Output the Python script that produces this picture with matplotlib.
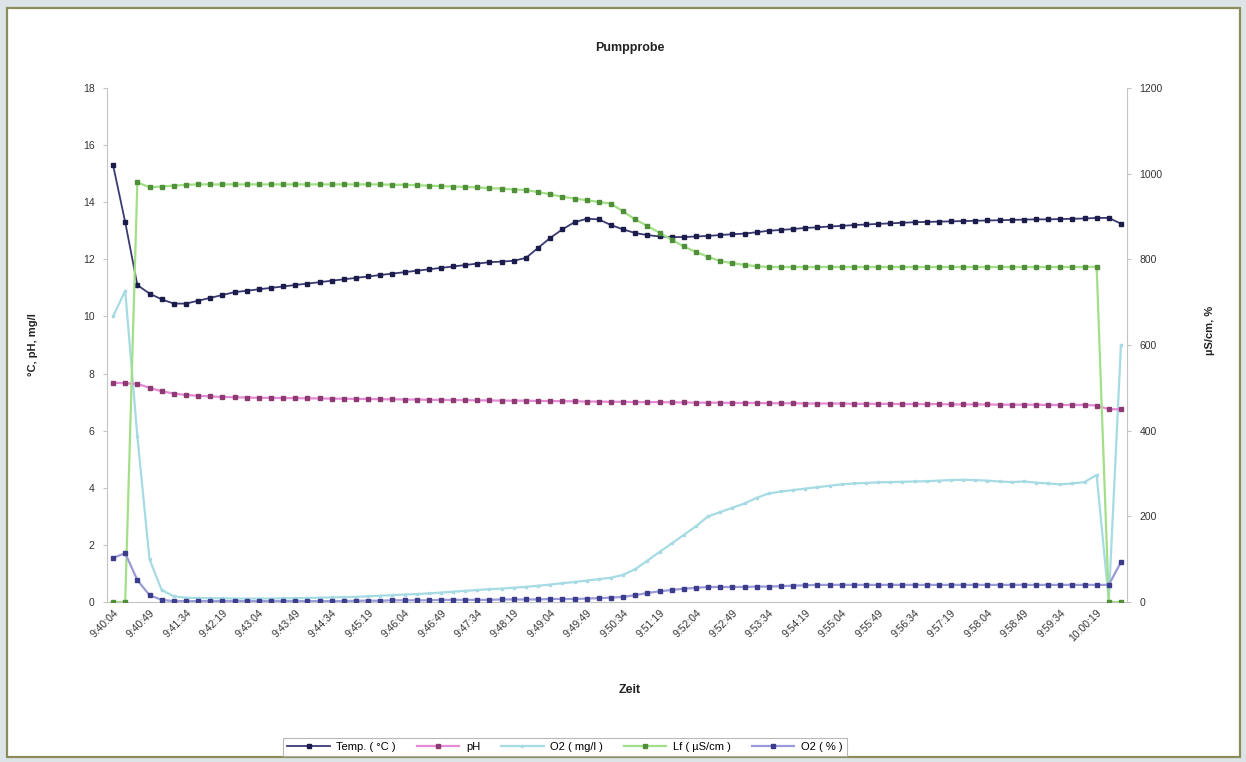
import matplotlib
matplotlib.use("Agg")
import matplotlib.pyplot as plt
from matplotlib.patches import Rectangle

plt.rcParams['font.family'] = ['Liberation Sans', 'DejaVu Sans']

# Category labels shown on the time axis (every third sample, 15 s sampling)
tick_labels = ["9:40:04", "9:40:49", "9:41:34", "9:42:19", "9:43:04", "9:43:49",
               "9:44:34", "9:45:19", "9:46:04", "9:46:49", "9:47:34", "9:48:19",
               "9:49:04", "9:49:49", "9:50:34", "9:51:19", "9:52:04", "9:52:49",
               "9:53:34", "9:54:19", "9:55:04", "9:55:49", "9:56:34", "9:57:19",
               "9:58:04", "9:58:49", "9:59:34", "10:00:19"]
label_step = 3

temp = [15.3, 13.3, 11.1, 10.8, 10.6, 10.45, 10.45, 10.55, 10.65, 10.75,
        10.85, 10.9, 10.95, 11.0, 11.05, 11.1, 11.15, 11.2, 11.25, 11.3,
        11.35, 11.4, 11.45, 11.5, 11.55, 11.6, 11.65, 11.7, 11.75, 11.8,
        11.85, 11.9, 11.92, 11.95, 12.05, 12.4, 12.75, 13.05, 13.3, 13.42,
        13.4, 13.2, 13.05, 12.92, 12.85, 12.8, 12.78, 12.78, 12.8, 12.82,
        12.85, 12.88, 12.9, 12.95, 13.0, 13.03, 13.06, 13.1, 13.12, 13.15,
        13.17, 13.2, 13.22, 13.24, 13.26, 13.28, 13.3, 13.31, 13.32, 13.33,
        13.34, 13.35, 13.36, 13.37, 13.38, 13.39, 13.4, 13.4, 13.41, 13.42,
        13.43, 13.45, 13.45, 13.25]

ph = [7.68, 7.66, 7.64, 7.5, 7.38, 7.3, 7.25, 7.22, 7.2, 7.18,
      7.17, 7.16, 7.15, 7.15, 7.14, 7.14, 7.13, 7.13, 7.12, 7.12,
      7.11, 7.11, 7.1, 7.1, 7.09, 7.09, 7.08, 7.08, 7.07, 7.07,
      7.06, 7.06, 7.05, 7.05, 7.05, 7.04, 7.04, 7.03, 7.03, 7.02,
      7.02, 7.01, 7.01, 7.0, 7.0, 7.0, 6.99, 6.99, 6.98, 6.98,
      6.98, 6.97, 6.97, 6.97, 6.96, 6.96, 6.96, 6.95, 6.95, 6.95,
      6.95, 6.94, 6.94, 6.94, 6.94, 6.93, 6.93, 6.93, 6.93, 6.92,
      6.92, 6.92, 6.92, 6.91, 6.91, 6.91, 6.91, 6.9, 6.9, 6.9,
      6.9, 6.88, 6.75, 6.75]

o2_mgl = [10.0, 10.9, 5.8, 1.5, 0.42, 0.2, 0.15, 0.14, 0.13, 0.13,
          0.12, 0.12, 0.12, 0.12, 0.13, 0.13, 0.14, 0.15, 0.16, 0.17,
          0.18, 0.2, 0.22, 0.24, 0.26, 0.28, 0.3, 0.33, 0.36, 0.39,
          0.42, 0.45, 0.47, 0.5, 0.53, 0.57, 0.61, 0.66, 0.7, 0.75,
          0.8, 0.85, 0.95, 1.15, 1.45, 1.75, 2.05, 2.35, 2.65, 3.0,
          3.15, 3.3, 3.45, 3.65, 3.8, 3.87, 3.92, 3.97, 4.02, 4.07,
          4.12, 4.15, 4.17, 4.19, 4.2, 4.21, 4.22, 4.23, 4.25, 4.27,
          4.28, 4.27, 4.25, 4.22, 4.2, 4.22, 4.18, 4.15, 4.12, 4.15,
          4.2, 4.45, 0.05, 9.0]

lf = [0, 0, 980, 968, 970, 972, 974, 975, 975, 975,
      975, 975, 975, 975, 975, 975, 975, 975, 975, 975,
      975, 975, 975, 974, 974, 973, 972, 971, 970, 969,
      968, 966, 965, 963, 962, 957, 952, 946, 942, 938,
      934, 930, 912, 893, 878, 862, 846, 830, 817, 806,
      796, 791, 787, 784, 782, 782, 782, 782, 782, 782,
      782, 782, 782, 782, 782, 782, 782, 782, 782, 782,
      782, 782, 782, 782, 782, 782, 782, 782, 782, 782,
      782, 783, 0, 0]

o2_pct = [103, 114, 51, 16, 5, 2, 2, 2, 2, 2,
          2, 2, 2, 2, 2, 2, 2, 2, 2, 2,
          3, 3, 3, 4, 4, 4, 4, 5, 5, 5,
          5, 5, 6, 6, 6, 6, 7, 7, 7, 8,
          9, 10, 12, 16, 21, 25, 28, 31, 33, 35,
          35, 35, 35, 36, 36, 37, 38, 39, 40, 40,
          40, 40, 40, 40, 40, 40, 40, 40, 40, 40,
          40, 40, 40, 40, 40, 40, 40, 40, 40, 40,
          40, 40, 40, 93]

x = list(range(len(temp)))

W, H = 1246, 762
fig = plt.figure(figsize=(W / 100, H / 100), dpi=100, facecolor='#dde4e7')
fig.patches.append(Rectangle((7 / W, 5 / H), (1240 - 7) / W, (757 - 8) / H,
                             transform=fig.transFigure, facecolor='white',
                             edgecolor='#8c8c5a', linewidth=1.6, zorder=-5))

ax = fig.add_axes([107 / W, 1 - 602 / H, 1020 / W, 514 / H])
ax.set_facecolor('none')
ax2 = ax.twinx()
ax2.set_position(ax.get_position())

ms = 3.4
h_temp, = ax.plot(x, temp, color='#3a3a72', lw=1.3, marker='s', ms=ms,
                  mfc='#1c1c4c', mec='#1c1c4c', label='Temp. ( °C )', zorder=5)
h_ph, = ax.plot(x, ph, color='#e48ad6', lw=1.6, marker='s', ms=ms,
                mfc='#8e3a72', mec='#8e3a72', label='pH', zorder=4)
h_o2m, = ax.plot(x, o2_mgl, color='#a6dbe4', lw=1.6, marker='s', ms=2.0,
                 mfc='#a6dbe4', mec='#a6dbe4', label='O2 ( mg/l )', zorder=3)
h_lf, = ax2.plot(x, lf, color='#a3df86', lw=1.6, marker='s', ms=ms,
                 mfc='#4f8f3a', mec='#4f8f3a', label='Lf ( µS/cm )', zorder=4)
h_o2p, = ax2.plot(x, o2_pct, color='#9a9ad8', lw=1.6, marker='s', ms=ms,
                  mfc='#3c3c8c', mec='#3c3c8c', label='O2 ( % )', zorder=5)

ax.set_xlim(-0.5, len(temp) - 0.5)
ax.set_ylim(0, 18)
ax.set_yticks(range(0, 19, 2))
ax2.set_ylim(0, 1200)
ax2.set_yticks(range(0, 1201, 200))

ax.set_xticks(x[::label_step])
ax.set_xticklabels(tick_labels, rotation=45, ha='right', va='top',
                   rotation_mode='anchor')

axis_col = '#c4c4c4'
for a in (ax, ax2):
    for s in a.spines.values():
        s.set_visible(False)
ax.spines['left'].set_visible(True)
ax.spines['left'].set_color(axis_col)
ax.spines['bottom'].set_visible(True)
ax.spines['bottom'].set_color(axis_col)
ax2.spines['right'].set_visible(True)
ax2.spines['right'].set_color(axis_col)

ax.tick_params(axis='y', direction='out', length=3, color=axis_col,
               labelsize=7.5, labelcolor='#333333', pad=6)
ax2.tick_params(axis='y', direction='out', length=3, color=axis_col,
                labelsize=7.5, labelcolor='#333333', pad=6)
ax.tick_params(axis='x', direction='out', length=0, labelsize=7.5,
               labelcolor='#333333', pad=4)

fig.text(0.5055, 1 - 48 / H, 'Pumpprobe', ha='center', va='center',
         fontsize=9, fontweight='bold', color='#222222')
fig.text(0.5055, 1 - 690 / H, 'Zeit', ha='center', va='center',
         fontsize=9, fontweight='bold', color='#222222')
fig.text(33 / W, 1 - 345 / H, '°C, pH, mg/l', ha='center', va='center',
         rotation=90, fontsize=8, fontweight='bold', color='#222222')
fig.text(1210 / W, 1 - 330 / H, 'µS/cm, %', ha='center', va='center',
         rotation=90, fontsize=8, fontweight='bold', color='#222222')

leg = fig.legend(handles=[h_temp, h_ph, h_o2m, h_lf, h_o2p], loc='center',
                 bbox_to_anchor=(565 / W, 1 - 747 / H), ncol=5, fontsize=8,
                 frameon=True, fancybox=False, edgecolor='#a8a8a8',
                 handlelength=3.8, handletextpad=0.6, columnspacing=1.9,
                 borderpad=0.4, markerscale=1.0)
leg.get_frame().set_linewidth(0.8)

fig.savefig('out.png', dpi=100, facecolor=fig.get_facecolor())
